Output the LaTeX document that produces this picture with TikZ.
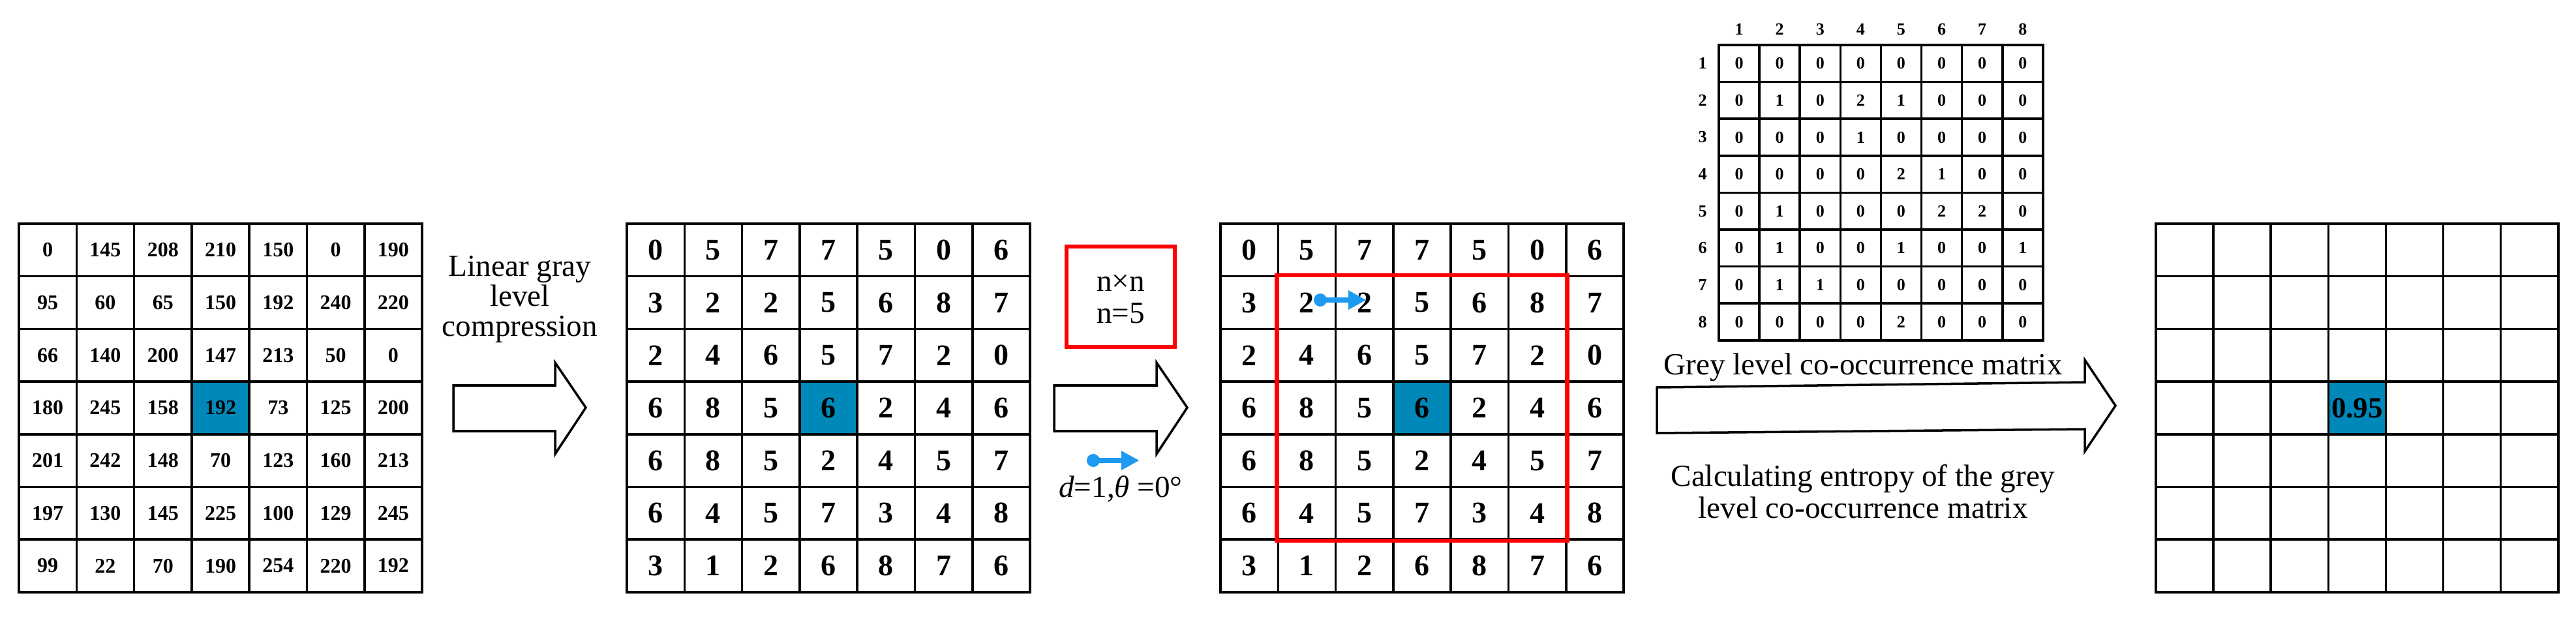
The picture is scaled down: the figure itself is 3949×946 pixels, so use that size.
\documentclass[tikz,border=0pt]{standalone}
\usepackage{fontspec}
\setmainfont{Liberation Serif}
\usetikzlibrary{arrows.meta}
\definecolor{cellblue}{HTML}{0088B8}
\definecolor{arrblue}{HTML}{1E9BF0}
\newlength{\pxu}\setlength{\pxu}{0.1mm}
\tikzset{
  cellA/.style={draw=black,line width=1pt,minimum width=88.3\pxu,minimum height=80.7\pxu,inner sep=0pt,font=\fontsize{9.1}{10}\selectfont\bfseries},
  cellB/.style={cellA,font=\fontsize{13.1}{14}\selectfont\bfseries},
  cellC/.style={draw=black,line width=1pt,minimum width=62.1\pxu,minimum height=56.6\pxu,inner sep=0pt,font=\fontsize{7.4}{8}\selectfont\bfseries},
  lbl/.style={font=\fontsize{7.4}{8}\selectfont\bfseries,inner sep=0pt},
  txt/.style={font=\fontsize{13.4}{15}\selectfont,align=center,inner sep=0pt},
  blockarrow/.style={draw=black,line width=1pt,fill=white,line join=miter},
}
\newcommand{\bluearrow}[3]{% x0, x1(tip), y
  \fill[arrblue] (#1,#3) circle[radius=10];
  \draw[arrblue,line width=2.2pt] (#1,#3) -- (#2-22,#3);
  \fill[arrblue] (#2,#3) -- (#2-27,#3-15) -- (#2-27,#3+15) -- cycle;
}
\begin{document}
\begin{tikzpicture}[x=0.01cm,y=-0.01cm]
\useasboundingbox (0,0) rectangle (3949,946);
% grid 1
\fill[cellblue] (29+3*88.3,343+3*80.7) rectangle ++(88.3,80.7);
\foreach \row [count=\r from 0] in {{0,145,208,210,150,0,190},{95,60,65,150,192,240,220},{66,140,200,147,213,50,0},{180,245,158,192,73,125,200},{201,242,148,70,123,160,213},{197,130,145,225,100,129,245},{99,22,70,190,254,220,192}}{
  \foreach \v [count=\c from 0] in \row {
    \node[cellA] (a-\r-\c) at (29+44.15+\c*88.3, 343+40.35+\r*80.7) {\v};
  }
}
% grid 2
\fill[cellblue] (961+3*88.3,343+3*80.7) rectangle ++(88.3,80.7);
\foreach \row [count=\r from 0] in {{0,5,7,7,5,0,6},{3,2,2,5,6,8,7},{2,4,6,5,7,2,0},{6,8,5,6,2,4,6},{6,8,5,2,4,5,7},{6,4,5,7,3,4,8},{3,1,2,6,8,7,6}}{
  \foreach \v [count=\c from 0] in \row {
    \node[cellB] (b-\r-\c) at (961+44.15+\c*88.3, 343+40.35+\r*80.7) {\v};
  }
}
% grid 3
\fill[cellblue] (1871+3*88.3,343+3*80.7) rectangle ++(88.3,80.7);
\foreach \row [count=\r from 0] in {{0,5,7,7,5,0,6},{3,2,2,5,6,8,7},{2,4,6,5,7,2,0},{6,8,5,6,2,4,6},{6,8,5,2,4,5,7},{6,4,5,7,3,4,8},{3,1,2,6,8,7,6}}{
  \foreach \v [count=\c from 0] in \row {
    \node[cellB] (c-\r-\c) at (1871+44.15+\c*88.3, 343+40.35+\r*80.7) {\v};
  }
}
\draw[red,line width=1.8pt] (c-1-1.north west) rectangle (c-5-5.south east);
\bluearrow{2024}{2094}{460}
% grid 4
\fill[cellblue] (3305+3*88.1,343+3*80.7) rectangle ++(88.1,80.7);
\foreach \r in {0,...,6}{
  \foreach \c in {0,...,6}{
    \node[cellA,minimum width=88.1\pxu] (d-\r-\c) at (3305+44.05+\c*88.1, 343+40.35+\r*80.7) {};
  }
}
\node[font=\fontsize{12.8}{14}\selectfont\bfseries,inner sep=0pt] at (d-3-3) {0.95};
% GLCM
\foreach \row [count=\r from 1] in {{0,0,0,0,0,0,0,0},{0,1,0,2,1,0,0,0},{0,0,0,1,0,0,0,0},{0,0,0,0,2,1,0,0},{0,1,0,0,0,2,2,0},{0,1,0,0,1,0,0,1},{0,1,1,0,0,0,0,0},{0,0,0,0,2,0,0,0}}{
  \foreach \v [count=\c from 1] in \row {
    \node[cellC] (m-\r-\c) at (2635-31.05+\c*62.1, 69-28.3+\r*56.6) {\v};
  }
}
\foreach \i in {1,...,8}{
  \node[lbl] (cl-\i) at (2635-31.05+\i*62.1, 45) {\i};
  \node[lbl] (rl-\i) at (2610, 69-28.3+\i*56.6) {\i};
}
% arrow 1
\draw[blockarrow] (695,591) -- (851,591) -- (851,556) -- (898,625) -- (851,696) -- (851,661) -- (695,661) -- cycle;
\node[txt] (t1) at (797,459) {Linear gray\\[-2pt]level\\[-2pt]compression};
% red n box and arrow 2
\node[draw=red,line width=1.8pt,minimum width=166\pxu,minimum height=154\pxu,inner sep=0pt] (nbox) at (1718,455) {};
\node[txt] at (1718,434) {n×n};
\node[txt] at (1718,480) {n=5};
\draw[blockarrow] (1616,591) -- (1773,591) -- (1773,556) -- (1820,625) -- (1773,696) -- (1773,661) -- (1616,661) -- cycle;
\bluearrow{1676}{1746}{706}
\node[txt] (dt) at (1718,750) {\textit{d}=1,\textit{θ} =0°};
% arrow 3
\draw[blockarrow] (2540,594) -- (3196,586) -- (3196,552) -- (3243,622) -- (3196,692) -- (3196,658) -- (2540,664) -- cycle;
\node[txt,fill=white] (t3) at (2856,563) {Grey level co-occurrence matrix};
\node[txt] (t4) at (2856,754) {Calculating entropy of the grey\\[-1pt]level co-occurrence matrix};
\end{tikzpicture}
\end{document}
